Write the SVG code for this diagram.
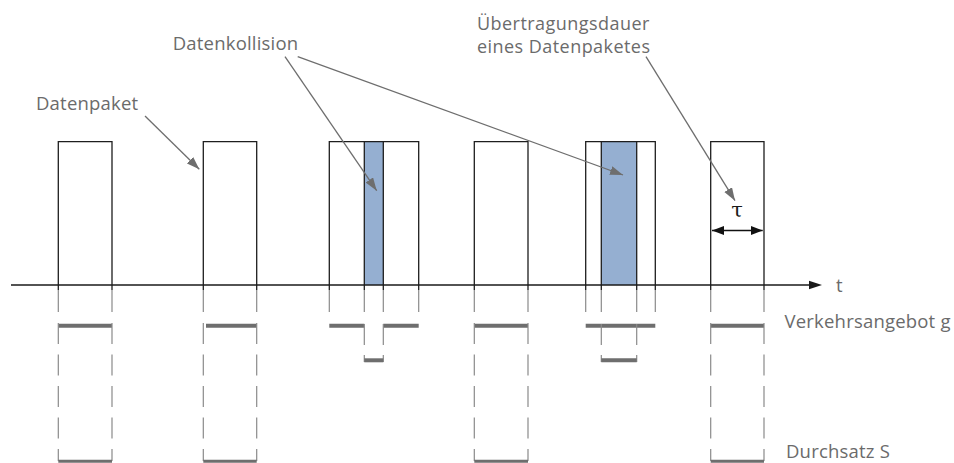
<svg xmlns="http://www.w3.org/2000/svg" width="954" height="463" viewBox="0 0 954 463">
<defs>
<marker id="ah" markerUnits="userSpaceOnUse" markerWidth="14" markerHeight="10" refX="13" refY="4.5" orient="auto">
<path d="M0,0 L13,4.5 L0,9 z" fill="#6e6e6e"/>
</marker>
<marker id="bk" markerUnits="userSpaceOnUse" markerWidth="13" markerHeight="10" refX="12" refY="4.5" orient="auto-start-reverse">
<path d="M0,0 L12,4.5 L0,9 z" fill="#111"/>
</marker>
<style>
.lbl{font-family:"Open Sans","Noto Sans",sans-serif;font-size:18.5px;fill:#6b6b6b;letter-spacing:0.2px}
.sm{font-size:18px;letter-spacing:0.45px}
.box{fill:none;stroke:#1e1e1e;stroke-width:1.3}
.coll{fill:#95afd1;stroke:none}
.tick{stroke:#8a8a8a;stroke-width:1.2;fill:none}
.dash{stroke:#8a8a8a;stroke-width:1.2;fill:none;stroke-dasharray:21 10.5}
.bar{stroke:#6e6e6e;stroke-width:4;fill:none}
.bar3{stroke:#6e6e6e;stroke-width:3;fill:none}
.lead{stroke:#6e6e6e;stroke-width:1.3;fill:none;marker-end:url(#ah)}
</style>
</defs>
<rect width="954" height="463" fill="#fff"/>

<g id="packet1">
<path class="box" d="M58.3,290 V141.7 H112 V290"/>
<path class="tick" d="M58.3,290 V312 M112,290 V312"/>
<path class="bar" d="M58.3,325.7 H112"/>
<path class="dash" d="M58.3,323 V461 M112,323 V461"/>
<path class="bar3" d="M58.3,461.3 H112"/>
</g>

<g id="packet2">
<path class="box" d="M203.3,290 V141.7 H256.7 V290"/>
<path class="tick" d="M203.3,290 V312 M256.7,290 V312"/>
<path class="bar" d="M206,325.7 H256.7"/>
<path class="dash" d="M203.3,323 V461 M256.7,323 V461"/>
<path class="bar3" d="M203.3,461.3 H256.7"/>
</g>

<g id="collision1">
<rect class="coll" x="364.3" y="141.7" width="19" height="143.3"/>
<path class="box" d="M329.3,290 V141.7 H383.3 V290 M364.3,290 V141.7 H418.7 V290"/>
<path class="tick" d="M329.3,290 V312 M364.3,290 V312 M383.3,290 V312 M418.7,290 V312"/>
<path class="bar" d="M329.3,325.7 H364.3 M383.3,325.7 H418.7"/>
<path class="tick" d="M364.3,324 V345 M383.3,324 V345 M364.3,355 V362 M383.3,355 V362"/>
<path class="bar" d="M364.3,360.3 H383.3"/>
</g>

<g id="packet4">
<path class="box" d="M474.3,290 V141.7 H528 V290"/>
<path class="tick" d="M474.3,290 V312 M528,290 V312"/>
<path class="bar" d="M474.3,325.7 H528"/>
<path class="dash" d="M474.3,323 V461 M528,323 V461"/>
<path class="bar3" d="M474.3,461.3 H528"/>
</g>

<g id="collision2">
<rect class="coll" x="601.3" y="141.7" width="35.4" height="143.3"/>
<path class="box" d="M585.7,290 V141.7 H636.7 V290 M601.3,290 V141.7 H655.3 V290"/>
<path class="tick" d="M585.7,290 V312 M601.3,290 V312 M636.7,290 V312 M655.3,290 V312"/>
<path class="bar" d="M585.7,325.7 H655.3"/>
<path class="tick" d="M601.3,324 V345 M636.7,324 V345 M601.3,355 V362 M636.7,355 V362"/>
<path class="bar" d="M601.3,360.3 H636.7"/>
</g>

<g id="packet6">
<path class="box" d="M710.7,290 V141.7 H764 V290"/>
<path class="tick" d="M710.7,290 V312 M764,290 V312"/>
<path class="bar" d="M710.7,325.7 H764"/>
<path class="dash" d="M710.7,323 V461 M764,323 V461"/>
<path class="bar3" d="M710.7,461.3 H764"/>
<path d="M712,230.5 H762.7" stroke="#111" stroke-width="1.5" fill="none" marker-start="url(#bk)" marker-end="url(#bk)"/>
<text x="737" y="216.5" font-family="'DejaVu Serif',serif" font-size="21" fill="#1a1a1a" text-anchor="middle">τ</text>
</g>

<g id="axis">
<path d="M11,285 H811" stroke="#1a1a1a" stroke-width="1.3" fill="none"/>
<path d="M822,285 L809,280.8 L809,289.2 z" fill="#1a1a1a"/>
<text class="lbl" x="836" y="292">t</text>
</g>

<g id="labels">
<text class="lbl" x="36" y="110">Datenpaket</text>
<text class="lbl" x="172.7" y="50">Datenkollision</text>
<text class="lbl sm" x="477" y="30">Übertragungsdauer</text>
<text class="lbl sm" x="477" y="52.5">eines Datenpaketes</text>
<text class="lbl" x="784.5" y="327.5">Verkehrsangebot g</text>
<text class="lbl" x="786" y="458">Durchsatz S</text>
</g>

<g id="connectors">
<path class="lead" d="M145,116 L199.3,169.3"/>
<path class="lead" d="M285,56.7 L376.7,190.7"/>
<path class="lead" d="M297.7,56.7 L623,175"/>
<path class="lead" d="M646,56.7 L735,200.7"/>
</g>
</svg>
